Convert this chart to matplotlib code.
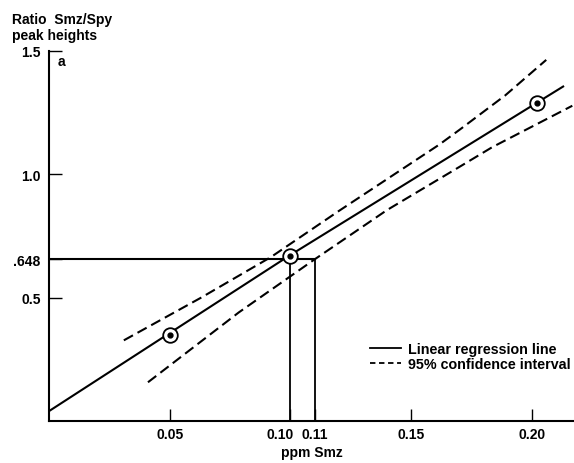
import matplotlib

matplotlib.use("Agg")
import matplotlib.pyplot as plt
import matplotlib.transforms as mtransforms
from matplotlib.lines import Line2D

plt.rcParams["font.family"] = ["Liberation Sans", "DejaVu Sans"]
plt.rcParams["font.weight"] = "bold"

# calibration points (ppm Smz, ratio Smz/Spy)
point_x = [0.05, 0.10, 0.202]
point_y = [0.35, 0.67, 1.29]

# regression line end points
reg_x = [0.0, 0.0995, 0.213]
reg_y = [0.04, 0.67, 1.356]

# 95% confidence band
upper_x = [0.031, 0.063, 0.092, 0.120, 0.1616, 0.170, 0.189, 0.206]
upper_y = [0.327, 0.50, 0.665, 0.851, 1.12, 1.18, 1.32, 1.464]
lower_x = [0.041, 0.0786, 0.110, 0.140, 0.170, 0.1836, 0.2168]
lower_y = [0.157, 0.44, 0.655, 0.855, 1.03, 1.11, 1.278]

# sample reading
sample_y = 0.655
sample_lo = 0.10
sample_hi = 0.11

x_ticks = [0.05, 0.10, 0.11, 0.15, 0.20]
x_labels = ["0.05", "0.10", "0.11", "0.15", "0.20"]
y_ticks = [0.5, 0.655, 1.0, 1.5]
y_labels = ["0.5", ".648", "1.0", "1.5"]

fig = plt.figure(figsize=(5.74, 4.64), dpi=100)
ax = fig.add_axes([49 / 574, 42 / 464, 525 / 574, 370 / 464])
ax.set_xlim(0, 0.2175)
ax.set_ylim(0, 1.5)

dash = (0, (5, 2.5))
ax.plot(reg_x, reg_y, color="black", lw=1.5)
ax.plot(upper_x, upper_y, color="black", lw=1.5, linestyle=dash)
ax.plot(lower_x, lower_y, color="black", lw=1.5, linestyle=dash)

ax.plot([0, sample_hi], [sample_y, sample_y], color="black", lw=1.5)
ax.plot([sample_lo, sample_lo], [0, sample_y], color="black", lw=1.3)
ax.plot([sample_hi, sample_hi], [0, sample_y], color="black", lw=1.3)

ax.plot(point_x, point_y, "o", ms=10.5, mfc="white", mec="black", mew=1.3, zorder=5)
ax.plot(point_x, point_y, "o", ms=3.5, color="black", zorder=6)

for side in ["top", "right"]:
    ax.spines[side].set_visible(False)
for side in ["left", "bottom"]:
    ax.spines[side].set_linewidth(1.5)

ax.set_xticks(x_ticks)
ax.set_xticklabels(x_labels)
ax.set_yticks(y_ticks)
ax.set_yticklabels(y_labels)
ax.tick_params(axis="both", direction="in", length=9, width=1, labelsize=10)
ax.tick_params(axis="x", pad=4)
ax.tick_params(axis="y", pad=6)

# the 0.10 label sits left of its line so it clears 0.11
shift = mtransforms.ScaledTranslation(-10 / 100, 0, fig.dpi_scale_trans)
for lab in ax.get_xticklabels():
    if lab.get_text() == "0.10":
        lab.set_transform(lab.get_transform() + shift)

ax.set_xlabel("ppm Smz", fontsize=10, fontweight="bold", labelpad=3)
fig.text(12 / 574, 1 - 28 / 464, "Ratio  Smz/Spy\npeak heights", fontsize=10,
         fontweight="bold", va="center", ha="left", linespacing=1.2)
fig.text(58 / 574, 1 - 62 / 464, "a", fontsize=10, fontweight="bold", va="center")

handles = [Line2D([], [], color="black", lw=1.3),
           Line2D([], [], color="black", lw=1.3, linestyle=(0, (3, 2)))]
ax.legend(handles, ["Linear regression line", "95% confidence interval"],
          loc="upper left", bbox_to_anchor=(315 / 525, 1 - 285 / 370),
          frameon=False, fontsize=10.3, handlelength=2.2, handletextpad=0.5,
          labelspacing=0.1, borderaxespad=0)

fig.savefig("out.png", dpi=100)
